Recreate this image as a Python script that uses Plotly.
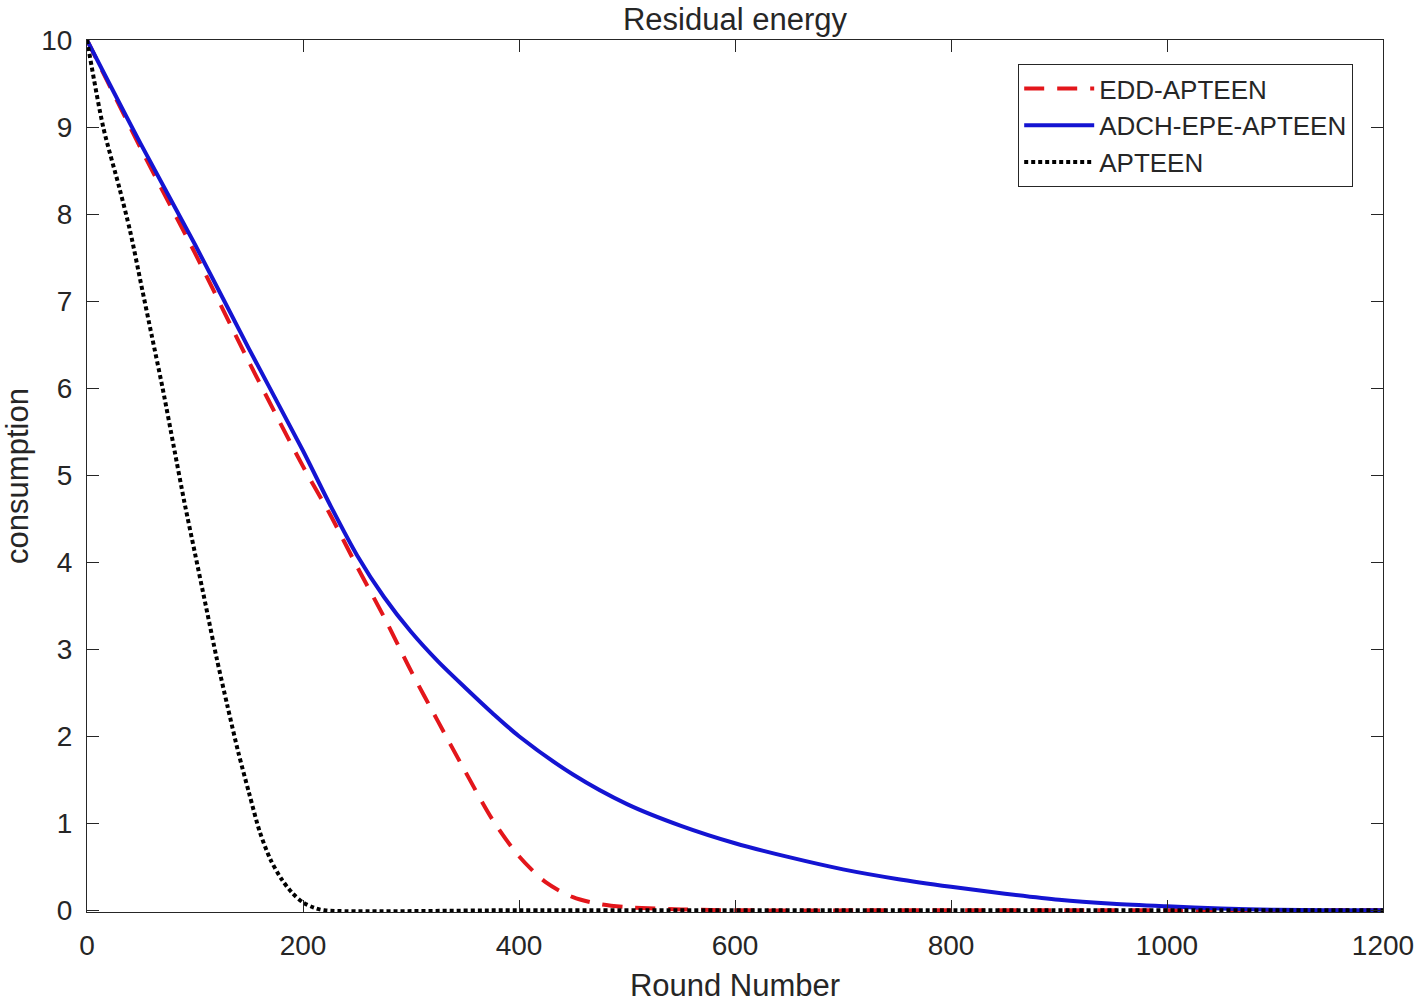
import plotly.graph_objects as go

# ---- data ----
edd_x = [0, 50, 100, 150, 200, 225, 250, 275, 300, 325, 350, 375, 400, 425, 450, 475, 500, 550, 600, 800, 1000, 1200]
edd_y = [10, 8.75, 7.55, 6.3, 5.1, 4.55, 3.95, 3.37, 2.75, 2.17, 1.6, 1.05, 0.62, 0.32, 0.15, 0.07, 0.035, 0.01, 0.0, 0.0, 0.0, 0.0]

adch_x = [0, 50, 100, 150, 200, 225, 250, 275, 300, 325, 350, 375, 400, 450, 500, 550, 600, 650, 700, 750, 800, 850, 900, 950, 1000, 1050, 1100, 1150, 1200]
adch_y = [10, 8.8, 7.65, 6.45, 5.28, 4.66, 4.08, 3.6, 3.2, 2.86, 2.56, 2.27, 2.0, 1.56, 1.22, 0.97, 0.77, 0.61, 0.47, 0.36, 0.27, 0.19, 0.12, 0.075, 0.045, 0.02, 0.005, 0.0, 0.0]

apteen_x = [0, 15, 30, 40, 50, 60, 70, 80, 90, 100, 110, 120, 130, 140, 150, 160, 170, 180, 190, 200, 210, 220, 400, 800, 1200]
apteen_y = [10, 9.0, 8.3, 7.8, 7.2, 6.6, 6.0, 5.35, 4.7, 4.1, 3.5, 2.9, 2.35, 1.82, 1.35, 0.9, 0.58, 0.36, 0.2, 0.09, 0.03, 0.0, 0.0, 0.0, 0.0]

series_names = ["EDD-APTEEN", "ADCH-EPE-APTEEN", "APTEEN"]
x_ticks = [0, 200, 400, 600, 800, 1000, 1200]
y_ticks = [0, 1, 2, 3, 4, 5, 6, 7, 8, 9, 10]

FONT = "Liberation Sans, Arial, sans-serif"
TXT = "#262626"

W, H = 1418, 1003

fig = go.Figure()
fig.add_trace(go.Scatter(x=edd_x, y=edd_y, mode="lines", name=series_names[0],
                         line=dict(color="#e3161b", width=4, dash="20px,13px", shape="spline", smoothing=0.8)))
fig.add_trace(go.Scatter(x=adch_x, y=adch_y, mode="lines", name=series_names[1],
                         line=dict(color="#1414d2", width=4, shape="spline", smoothing=0.8)))
fig.add_trace(go.Scatter(x=apteen_x, y=apteen_y, mode="lines", name=series_names[2],
                         line=dict(color="#000000", width=4, dash="4px,3px", shape="spline", smoothing=0.8)))

axis_common = dict(showgrid=False, zeroline=False, showline=True, linecolor="#262626", linewidth=1,
                   mirror="ticks", ticks="inside", ticklen=12, tickcolor="#262626", tickwidth=1,
                   automargin=False, ticklabelstandoff=8, ticklabeloverflow="allow",
                   tickfont=dict(family=FONT, size=28, color=TXT))

fig.update_layout(
    width=W, height=H,
    paper_bgcolor="white", plot_bgcolor="white",
    margin=dict(l=87, r=35, t=40, b=91, autoexpand=False),
    title=dict(text="Residual energy", x=0.5, xanchor="center", xref="paper",
               y=1 - 19 / H, yref="container", yanchor="middle",
               font=dict(family=FONT, size=31, color=TXT)),
    xaxis=dict(range=[0, 1200], tickvals=x_ticks,
               title=dict(text="Round Number", standoff=18, font=dict(family=FONT, size=31, color=TXT)),
               **axis_common),
    yaxis=dict(range=[-0.02, 10.0], tickvals=y_ticks,
               title=dict(text="consumption", standoff=10, font=dict(family=FONT, size=31, color=TXT)),
               **axis_common),
    legend=dict(x=0.977, y=0.9725, xanchor="right", yanchor="top",
                bgcolor="white", bordercolor="#262626", borderwidth=1,
                font=dict(family=FONT, size=26, color=TXT),
                itemwidth=70, tracegroupgap=0),
    showlegend=True,
)

fig.write_html("out.html", config={"displayModeBar": False},
               post_script="document.body.style.margin='0px';document.body.style.overflow='hidden';")
